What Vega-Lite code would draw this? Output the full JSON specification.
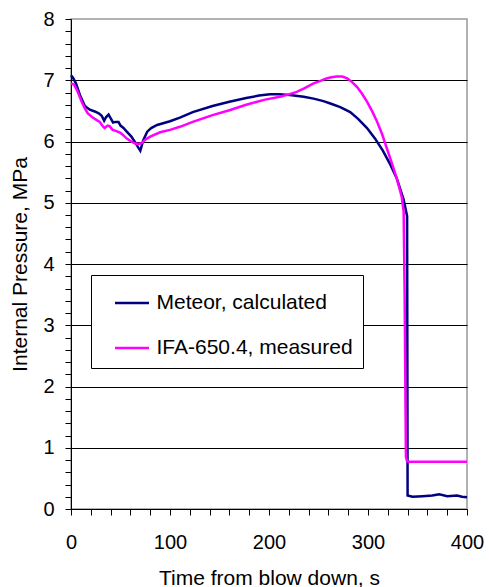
{
  "$schema": "https://vega.github.io/schema/vega-lite/v6.json",
  "width": 396,
  "height": 490,
  "autosize": "none",
  "padding": {"left": 71, "top": 19, "right": 22, "bottom": 78},
  "background": "white",
  "config": {
    "font": "Liberation Sans",
    "view": {"stroke": "#999999", "strokeWidth": 1.5},
    "axis": {"labelColor": "black", "titleColor": "black", "titleFontWeight": "normal", "domainColor": "black", "tickColor": "black"}
  },
  "data": {"values": [
    {"series": "Meteor, calculated", "t": 0, "p": 7.08},
    {"series": "Meteor, calculated", "t": 2, "p": 7.04},
    {"series": "Meteor, calculated", "t": 5, "p": 6.95},
    {"series": "Meteor, calculated", "t": 9, "p": 6.76},
    {"series": "Meteor, calculated", "t": 14, "p": 6.58},
    {"series": "Meteor, calculated", "t": 19, "p": 6.52},
    {"series": "Meteor, calculated", "t": 24, "p": 6.49},
    {"series": "Meteor, calculated", "t": 28, "p": 6.46},
    {"series": "Meteor, calculated", "t": 31, "p": 6.42},
    {"series": "Meteor, calculated", "t": 33.5, "p": 6.34},
    {"series": "Meteor, calculated", "t": 35.5, "p": 6.4},
    {"series": "Meteor, calculated", "t": 38, "p": 6.44},
    {"series": "Meteor, calculated", "t": 40, "p": 6.38},
    {"series": "Meteor, calculated", "t": 42.5, "p": 6.31},
    {"series": "Meteor, calculated", "t": 45, "p": 6.32},
    {"series": "Meteor, calculated", "t": 48, "p": 6.32},
    {"series": "Meteor, calculated", "t": 50, "p": 6.26},
    {"series": "Meteor, calculated", "t": 53, "p": 6.22},
    {"series": "Meteor, calculated", "t": 57, "p": 6.15},
    {"series": "Meteor, calculated", "t": 61, "p": 6.08},
    {"series": "Meteor, calculated", "t": 65, "p": 5.98},
    {"series": "Meteor, calculated", "t": 68, "p": 5.9},
    {"series": "Meteor, calculated", "t": 70, "p": 5.85},
    {"series": "Meteor, calculated", "t": 73, "p": 6.02},
    {"series": "Meteor, calculated", "t": 77, "p": 6.16},
    {"series": "Meteor, calculated", "t": 81, "p": 6.22},
    {"series": "Meteor, calculated", "t": 87, "p": 6.27},
    {"series": "Meteor, calculated", "t": 100, "p": 6.33},
    {"series": "Meteor, calculated", "t": 110, "p": 6.39},
    {"series": "Meteor, calculated", "t": 123, "p": 6.48},
    {"series": "Meteor, calculated", "t": 143, "p": 6.58},
    {"series": "Meteor, calculated", "t": 160, "p": 6.65},
    {"series": "Meteor, calculated", "t": 177, "p": 6.71},
    {"series": "Meteor, calculated", "t": 190, "p": 6.75},
    {"series": "Meteor, calculated", "t": 201, "p": 6.77},
    {"series": "Meteor, calculated", "t": 210, "p": 6.77},
    {"series": "Meteor, calculated", "t": 221, "p": 6.76},
    {"series": "Meteor, calculated", "t": 235, "p": 6.73},
    {"series": "Meteor, calculated", "t": 245, "p": 6.7},
    {"series": "Meteor, calculated", "t": 255, "p": 6.66},
    {"series": "Meteor, calculated", "t": 262, "p": 6.62},
    {"series": "Meteor, calculated", "t": 272, "p": 6.56},
    {"series": "Meteor, calculated", "t": 282, "p": 6.48},
    {"series": "Meteor, calculated", "t": 290, "p": 6.37},
    {"series": "Meteor, calculated", "t": 299, "p": 6.22},
    {"series": "Meteor, calculated", "t": 307, "p": 6.05},
    {"series": "Meteor, calculated", "t": 315, "p": 5.85},
    {"series": "Meteor, calculated", "t": 322, "p": 5.64},
    {"series": "Meteor, calculated", "t": 329, "p": 5.4},
    {"series": "Meteor, calculated", "t": 333, "p": 5.2},
    {"series": "Meteor, calculated", "t": 336, "p": 5.05},
    {"series": "Meteor, calculated", "t": 339.5, "p": 4.78},
    {"series": "Meteor, calculated", "t": 340, "p": 0.22},
    {"series": "Meteor, calculated", "t": 345, "p": 0.2},
    {"series": "Meteor, calculated", "t": 355, "p": 0.21},
    {"series": "Meteor, calculated", "t": 365, "p": 0.22},
    {"series": "Meteor, calculated", "t": 372, "p": 0.24},
    {"series": "Meteor, calculated", "t": 380, "p": 0.21},
    {"series": "Meteor, calculated", "t": 390, "p": 0.22},
    {"series": "Meteor, calculated", "t": 395, "p": 0.2},
    {"series": "Meteor, calculated", "t": 400, "p": 0.19},
    {"series": "IFA-650.4, measured", "t": 0, "p": 6.95},
    {"series": "IFA-650.4, measured", "t": 3, "p": 6.93},
    {"series": "IFA-650.4, measured", "t": 6, "p": 6.84},
    {"series": "IFA-650.4, measured", "t": 9, "p": 6.72},
    {"series": "IFA-650.4, measured", "t": 11, "p": 6.64},
    {"series": "IFA-650.4, measured", "t": 14, "p": 6.54},
    {"series": "IFA-650.4, measured", "t": 17, "p": 6.46},
    {"series": "IFA-650.4, measured", "t": 22, "p": 6.39},
    {"series": "IFA-650.4, measured", "t": 26, "p": 6.35},
    {"series": "IFA-650.4, measured", "t": 29, "p": 6.32},
    {"series": "IFA-650.4, measured", "t": 32, "p": 6.25},
    {"series": "IFA-650.4, measured", "t": 34, "p": 6.22},
    {"series": "IFA-650.4, measured", "t": 37, "p": 6.26},
    {"series": "IFA-650.4, measured", "t": 39, "p": 6.25},
    {"series": "IFA-650.4, measured", "t": 42, "p": 6.19},
    {"series": "IFA-650.4, measured", "t": 46, "p": 6.17},
    {"series": "IFA-650.4, measured", "t": 50, "p": 6.14},
    {"series": "IFA-650.4, measured", "t": 53, "p": 6.1},
    {"series": "IFA-650.4, measured", "t": 57, "p": 6.04},
    {"series": "IFA-650.4, measured", "t": 61, "p": 6.0},
    {"series": "IFA-650.4, measured", "t": 64, "p": 5.97},
    {"series": "IFA-650.4, measured", "t": 68, "p": 5.96},
    {"series": "IFA-650.4, measured", "t": 71, "p": 5.97},
    {"series": "IFA-650.4, measured", "t": 75, "p": 6.03},
    {"series": "IFA-650.4, measured", "t": 80, "p": 6.08},
    {"series": "IFA-650.4, measured", "t": 90, "p": 6.15},
    {"series": "IFA-650.4, measured", "t": 100, "p": 6.19},
    {"series": "IFA-650.4, measured", "t": 110, "p": 6.24},
    {"series": "IFA-650.4, measured", "t": 123, "p": 6.32},
    {"series": "IFA-650.4, measured", "t": 143, "p": 6.43},
    {"series": "IFA-650.4, measured", "t": 160, "p": 6.51},
    {"series": "IFA-650.4, measured", "t": 177, "p": 6.6},
    {"series": "IFA-650.4, measured", "t": 195, "p": 6.68},
    {"series": "IFA-650.4, measured", "t": 211, "p": 6.73},
    {"series": "IFA-650.4, measured", "t": 220, "p": 6.77},
    {"series": "IFA-650.4, measured", "t": 228, "p": 6.81},
    {"series": "IFA-650.4, measured", "t": 236, "p": 6.87},
    {"series": "IFA-650.4, measured", "t": 245, "p": 6.95},
    {"series": "IFA-650.4, measured", "t": 252, "p": 6.99},
    {"series": "IFA-650.4, measured", "t": 258, "p": 7.03},
    {"series": "IFA-650.4, measured", "t": 263, "p": 7.05},
    {"series": "IFA-650.4, measured", "t": 268, "p": 7.06},
    {"series": "IFA-650.4, measured", "t": 274, "p": 7.06},
    {"series": "IFA-650.4, measured", "t": 279, "p": 7.03},
    {"series": "IFA-650.4, measured", "t": 284, "p": 6.97},
    {"series": "IFA-650.4, measured", "t": 289, "p": 6.89},
    {"series": "IFA-650.4, measured", "t": 294, "p": 6.78},
    {"series": "IFA-650.4, measured", "t": 299, "p": 6.65},
    {"series": "IFA-650.4, measured", "t": 304, "p": 6.5},
    {"series": "IFA-650.4, measured", "t": 309, "p": 6.33},
    {"series": "IFA-650.4, measured", "t": 314, "p": 6.13},
    {"series": "IFA-650.4, measured", "t": 319, "p": 5.89},
    {"series": "IFA-650.4, measured", "t": 324, "p": 5.65},
    {"series": "IFA-650.4, measured", "t": 329, "p": 5.4},
    {"series": "IFA-650.4, measured", "t": 332, "p": 5.22},
    {"series": "IFA-650.4, measured", "t": 334, "p": 5.1},
    {"series": "IFA-650.4, measured", "t": 336, "p": 4.86},
    {"series": "IFA-650.4, measured", "t": 337, "p": 3.5},
    {"series": "IFA-650.4, measured", "t": 338.3, "p": 0.85},
    {"series": "IFA-650.4, measured", "t": 339.5, "p": 0.78},
    {"series": "IFA-650.4, measured", "t": 341, "p": 0.77},
    {"series": "IFA-650.4, measured", "t": 400, "p": 0.77}
  ]},
  "mark": {"type": "line", "strokeWidth": 2.5, "interpolate": "linear"},
  "encoding": {
    "x": {
      "field": "t", "type": "quantitative",
      "scale": {"domain": [0, 400], "nice": false},
      "axis": {
        "title": "Time from blow down, s",
        "values": [0, 20, 40, 60, 80, 100, 120, 140, 160, 180, 200, 220, 240, 260, 280, 300, 320, 340, 360, 380, 400],
        "labelExpr": "floor(datum.value / 100) * 100 === datum.value ? datum.label : ''",
        "labelOverlap": false, "labelFlush": false,
        "grid": false, "tickSize": 6, "labelFontSize": 20, "labelPadding": 17,
        "titleFontSize": 21, "titlePadding": 15
      }
    },
    "y": {
      "field": "p", "type": "quantitative",
      "scale": {"domain": [0, 8], "nice": false},
      "axis": {
        "title": "Internal Pressure, MPa",
        "values": [0, 0.2, 0.4, 0.6, 0.8, 1, 1.2, 1.4, 1.6, 1.8, 2, 2.2, 2.4, 2.6, 2.8, 3, 3.2, 3.4, 3.6, 3.8, 4, 4.2, 4.4, 4.6, 4.8, 5, 5.2, 5.4, 5.6, 5.8, 6, 6.2, 6.4, 6.6, 6.8, 7, 7.2, 7.4, 7.6, 7.8, 8],
        "labelExpr": "floor(datum.value) === datum.value ? '' + datum.value : ''",
        "labelOverlap": false, "labelFlush": false,
        "grid": true,
        "gridColor": {"condition": {"test": "floor(datum.value) === datum.value && datum.value > 0 && datum.value < 8", "value": "black"}, "value": "transparent"},
        "gridWidth": 1,
        "tickSize": 6, "labelFontSize": 20, "labelPadding": 11,
        "titleFontSize": 21, "titlePadding": 12
      }
    },
    "color": {
      "field": "series", "type": "nominal",
      "scale": {"domain": ["Meteor, calculated", "IFA-650.4, measured"], "range": ["#000080", "#FF00FF"]},
      "legend": {
        "title": null, "orient": "none", "legendX": 20, "legendY": 256,
        "fillColor": "white", "strokeColor": "black",
        "padding": 9.5, "symbolType": "stroke", "symbolSize": 1156, "symbolStrokeWidth": 2.5,
        "symbolOffset": 13, "labelOffset": 6, "rowPadding": 16,
        "labelFontSize": 21, "labelColor": "black", "labelLimit": 400
      }
    }
  }
}
